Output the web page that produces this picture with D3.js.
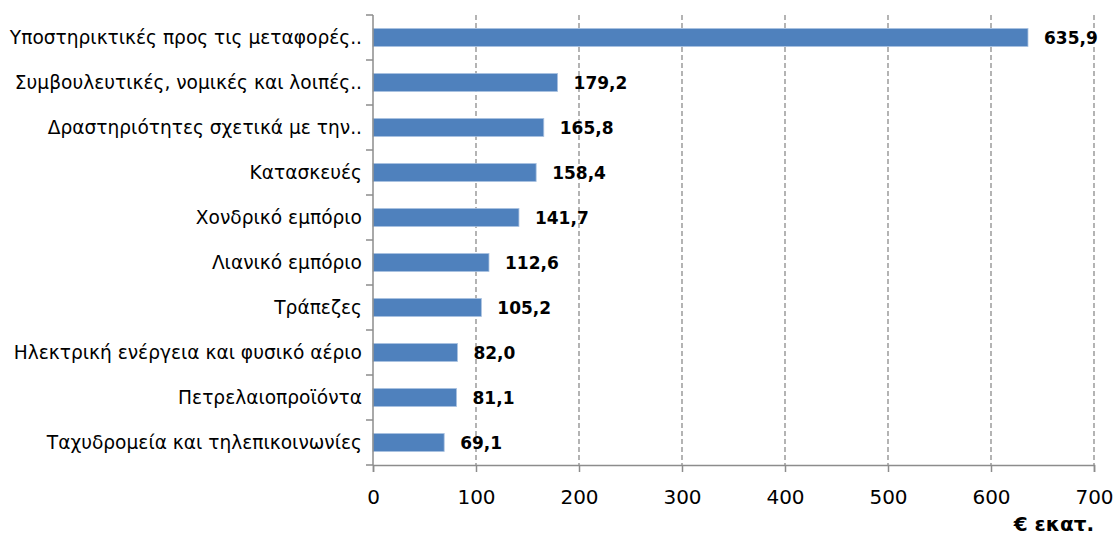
<!DOCTYPE html>
<html>
<head>
<meta charset="utf-8">
<script src="https://cdn.jsdelivr.net/npm/d3@7"></script>
<style>
  body { margin: 0; background: #fff; }
  text { font-family: "DejaVu Sans", Verdana, sans-serif; }
</style>
</head>
<body>
<div id="chart"></div>
<script>
// categories top to bottom, values in € million
var categories = [
  "Υποστηρικτικές προς τις μεταφορές..",
  "Συμβουλευτικές, νομικές και λοιπές..",
  "Δραστηριότητες σχετικά με την..",
  "Κατασκευές",
  "Χονδρικό εμπόριο",
  "Λιανικό εμπόριο",
  "Τράπεζες",
  "Ηλεκτρική ενέργεια και φυσικό αέριο",
  "Πετρελαιοπροϊόντα",
  "Ταχυδρομεία και τηλεπικοινωνίες"
];
var values = [635.9, 179.2, 165.8, 158.4, 141.7, 112.6, 105.2, 82.0, 81.1, 69.1];
var xTicks = [0, 100, 200, 300, 400, 500, 600, 700];
var unitLabel = "€ εκατ.";

var margin = {top: 15, right: 22, bottom: 73, left: 373},
    width = 1116 - margin.left - margin.right,
    height = 538 - margin.top - margin.bottom;

var svg = d3.select("#chart")
  .append("svg")
    .attr("width", 1116)
    .attr("height", 538)
  .append("g")
    .attr("transform", "translate(" + margin.left + "," + margin.top + ")");

var x = d3.scaleLinear().domain([0, 700]).range([0, width]);
var y = d3.scaleBand().domain(categories).range([0, height]).paddingInner(0.6).paddingOuter(0.3);
var band = d3.scaleBand().domain(categories).range([0, height]);

// dashed gridlines
svg.selectAll("line.grid")
  .data(xTicks.slice(1))
  .enter()
  .append("line")
    .attr("class", "grid")
    .attr("x1", function(d) { return x(d); })
    .attr("x2", function(d) { return x(d); })
    .attr("y1", 0)
    .attr("y2", height)
    .attr("stroke", "#8c8c8c")
    .attr("stroke-width", 1.3)
    .attr("stroke-dasharray", "5,3");

// bars
svg.selectAll("rect.bar")
  .data(values)
  .enter()
  .append("rect")
    .attr("class", "bar")
    .attr("x", x(0))
    .attr("y", function(d, i) { return y(categories[i]); })
    .attr("width", function(d) { return x(d) - x(0); })
    .attr("height", y.bandwidth())
    .attr("fill", "#4f81bd")
    .attr("stroke", "#a9c1e0")
    .attr("stroke-width", 0.8);

// value labels
svg.selectAll("text.val")
  .data(values)
  .enter()
  .append("text")
    .attr("class", "val")
    .attr("x", function(d) { return x(d) + 16; })
    .attr("y", function(d, i) { return y(categories[i]) + y.bandwidth() / 2; })
    .attr("dy", "0.36em")
    .style("font-size", "17px")
    .style("font-weight", "bold")
    .attr("fill", "#000")
    .text(function(d) { return d.toFixed(1).replace(".", ","); });

// x axis
var xAxis = svg.append("g")
  .attr("transform", "translate(0," + height + ")")
  .call(d3.axisBottom(x).tickValues(xTicks).tickSize(7).tickPadding(18));
xAxis.select(".domain").attr("stroke", "#8c8c8c").attr("stroke-width", 1.5);
xAxis.selectAll(".tick line").attr("stroke", "#8c8c8c").attr("stroke-width", 1.5);
xAxis.selectAll(".tick text")
  .style("font-size", "20px")
  .style("font-family", "DejaVu Sans")
  .attr("fill", "#000");

// y axis: line with tick marks at band boundaries
svg.append("line")
  .attr("x1", 0).attr("x2", 0)
  .attr("y1", 0).attr("y2", height)
  .attr("stroke", "#8c8c8c")
  .attr("stroke-width", 1.5);
var bounds = categories.map(function(c) { return band(c); }).concat([height]);
svg.selectAll("line.ytick")
  .data(bounds)
  .enter()
  .append("line")
    .attr("x1", -7).attr("x2", 0)
    .attr("y1", function(d) { return d; })
    .attr("y2", function(d) { return d; })
    .attr("stroke", "#8c8c8c")
    .attr("stroke-width", 1.5);

// category labels
svg.selectAll("text.cat")
  .data(categories)
  .enter()
  .append("text")
    .attr("class", "cat")
    .attr("x", -11)
    .attr("y", function(d) { return band(d) + band.bandwidth() / 2; })
    .attr("dy", "0.36em")
    .attr("text-anchor", "end")
    .style("font-size", "18.6px")
    .attr("fill", "#000")
    .text(function(d) { return d; });

// unit label
svg.append("text")
  .attr("x", width)
  .attr("y", height + 66)
  .attr("text-anchor", "end")
  .style("font-size", "20px")
  .style("font-weight", "bold")
  .text(unitLabel);
</script>
</body>
</html>
